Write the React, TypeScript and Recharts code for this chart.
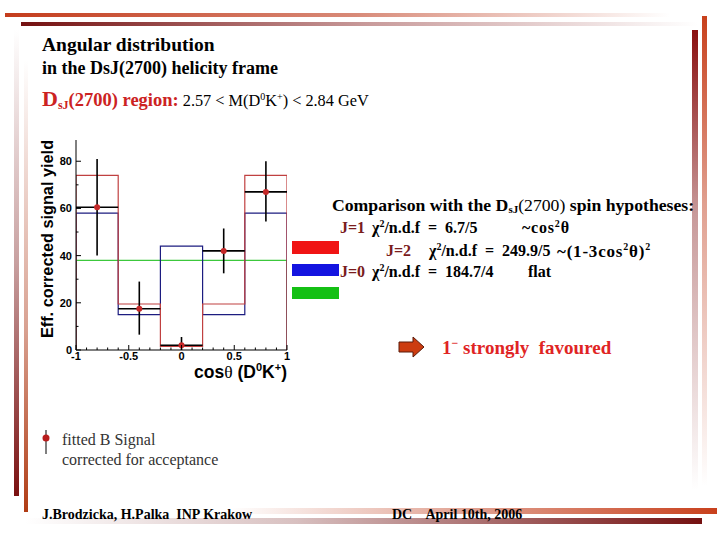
import React from "react";
import {
  ComposedChart,
  Line,
  Scatter,
  ErrorBar,
  XAxis,
  YAxis,
} from "recharts";

// bin edges of cos(theta) and the histograms
const binEdges = [-1, -0.6, -0.2, 0.2, 0.6, 1];
const spin1Fit = [74, 19.5, 1.5, 19.5, 74];
const spin2Fit = [58, 15, 44, 15, 58];
const spin0Fit = [38, 38, 38, 38, 38];

// fitted B signal, corrected for acceptance
const yields = [60.5, 17.5, 2, 42, 67];
const errLow = [20.5, 11, 2, 9.5, 12.5];
const errHigh = [20.5, 11.5, 3.5, 9.5, 13];

const xTicks = [
  -1, -0.9, -0.8, -0.7, -0.6, -0.5, -0.4, -0.3, -0.2, -0.1, 0, 0.1, 0.2, 0.3,
  0.4, 0.5, 0.6, 0.7, 0.8, 0.9, 1,
];
const yTicks = [0, 10, 20, 30, 40, 50, 60, 70, 80];

const stepPoints = (vals: number[]) => {
  const pts = [{ x: binEdges[0], y: 0 }];
  vals.forEach((v, i) => {
    pts.push({ x: binEdges[i], y: v });
    pts.push({ x: binEdges[i + 1], y: v });
  });
  pts.push({ x: binEdges[binEdges.length - 1], y: 0 });
  return pts;
};

const points = yields.map((y, i) => ({
  x: (binEdges[i] + binEdges[i + 1]) / 2,
  y,
  ex: (binEdges[i + 1] - binEdges[i]) / 2,
  ey: [errLow[i], errHigh[i]],
}));

const serif = "'Liberation Serif', 'DejaVu Serif', serif";
const sans = "'Liberation Sans', Arial, sans-serif";
const jColor = "#7a1c1c";

const XTick = (props: any) => {
  const { x, y, payload } = props;
  const v = payload.value;
  const major = Math.abs(v * 2 - Math.round(v * 2)) < 1e-6;
  return (
    <g>
      <line x1={x} x2={x} y1={y} y2={y - (major ? 5 : 2.5)} stroke="#000" />
      {major && (
        <text
          x={x}
          y={y + 10}
          textAnchor="middle"
          fontFamily={sans}
          fontWeight="bold"
          fontSize={11}
          fill="#000"
        >
          {v}
        </text>
      )}
    </g>
  );
};

const YTickLeft = (props: any) => {
  const { x, y, payload } = props;
  const major = payload.value % 20 === 0;
  return (
    <g>
      <line x1={x} x2={x + (major ? 5 : 2.5)} y1={y} y2={y} stroke="#000" />
      {major && (
        <text
          x={x - 4}
          y={y + 4}
          textAnchor="end"
          fontFamily={sans}
          fontWeight="bold"
          fontSize={11}
          fill="#000"
        >
          {payload.value}
        </text>
      )}
    </g>
  );
};

const YTickRight = (props: any) => {
  const { x, y, payload } = props;
  const major = payload.value % 20 === 0;
  return <line x1={x} x2={x - (major ? 5 : 2.5)} y1={y} y2={y} stroke="#000" />;
};

const abs = (left: number, top: number, extra: React.CSSProperties = {}): React.CSSProperties => ({
  position: "absolute",
  left,
  top,
  whiteSpace: "pre",
  lineHeight: 1,
  ...extra,
});

const bar = (left: number, top: number, width: number, height: number, bg: string): React.CSSProperties => ({
  position: "absolute",
  left,
  top,
  width,
  height,
  background: bg,
});

const sup = (t: string, size = 10) => <sup style={{ fontSize: size, lineHeight: 0 }}>{t}</sup>;

export default function App() {
  const hyp = { fontSize: 16, fontWeight: "bold" as const };
  return (
    <div
      style={{
        position: "absolute",
        left: 0,
        top: 0,
        width: 720,
        height: 540,
        background: "#fff",
        overflow: "hidden",
        fontFamily: serif,
      }}
    >
      {/* slide decoration */}
      <div style={bar(5, 13, 700, 4, "linear-gradient(to right, #c43c1c, #d88a78 50%, rgba(255,255,255,0) 95%)")} />
      <div style={bar(21, 22, 690, 4, "linear-gradient(to right, #741010, #c89a9a 50%, rgba(255,255,255,0) 98%)")} />
      <div style={bar(14, 30, 5, 466, "linear-gradient(to bottom, rgba(255,255,255,0), #c8a0a0 50%, #7a1010)")} />
      <div style={bar(24, 60, 4, 452, "linear-gradient(to bottom, rgba(255,255,255,0), #d8a090 60%, #b03c14)")} />
      <div style={bar(692, 30, 6, 460, "linear-gradient(to bottom, #8a1010, #c89a9a 40%, rgba(255,255,255,0))")} />
      <div style={bar(702, 16, 5, 470, "linear-gradient(to bottom, #c8401c, #e0a090 40%, rgba(255,255,255,0))")} />
      <div style={bar(230, 508, 487, 6, "linear-gradient(to right, rgba(255,255,255,0), #e0a090 50%, #c8401c)")} />
      <div style={bar(25, 518, 677, 6, "linear-gradient(to right, rgba(255,255,255,0), #d8c0c0 40%, #741010)")} />

      {/* titles */}
      <div style={abs(42, 35, { fontSize: 19.5, fontWeight: "bold" })}>Angular distribution</div>
      <div style={abs(42, 59, { fontSize: 18, fontWeight: "bold" })}>in the DsJ(2700) helicity frame</div>
      <div style={abs(42, 88, { fontSize: 16.3 })}>
        <span style={{ color: "#cc2222", fontWeight: "bold", fontSize: 22 }}>D</span>
        <span style={{ color: "#cc2222", fontWeight: "bold", fontSize: 12, verticalAlign: -3 }}>sJ</span>
        <span style={{ color: "#cc2222", fontWeight: "bold", fontSize: 18.5 }}>(2700) region:</span>
        <span> 2.57 &lt; M(D</span>
        {sup("0", 10)}
        <span>K</span>
        {sup("+", 10)}
        <span>) &lt; 2.84 GeV</span>
      </div>

      {/* plot */}
      <div style={{ position: "absolute", left: 30, top: 125 }}>
        <ComposedChart width={300} height={250} margin={{ top: 15, right: 43, left: 0, bottom: 0 }}>
          <XAxis
            xAxisId="b"
            type="number"
            dataKey="x"
            domain={[-1, 1]}
            ticks={xTicks}
            interval={0}
            height={25}
            tickSize={0}
            tickMargin={0}
            tickLine={false}
            tick={<XTick />}
            axisLine={{ stroke: "#000" }}
            allowDataOverflow
          />
          <XAxis
            xAxisId="t"
            orientation="top"
            type="number"
            domain={[-1, 1]}
            height={0}
            tick={false}
            tickLine={false}
            axisLine={{ stroke: "#000" }}
          />
          <YAxis
            yAxisId="l"
            type="number"
            domain={[0, 89]}
            ticks={yTicks}
            interval={0}
            width={46}
            tickSize={0}
            tickMargin={0}
            tickLine={false}
            tick={<YTickLeft />}
            axisLine={{ stroke: "#000" }}
            allowDataOverflow
          />
          <YAxis
            yAxisId="r"
            orientation="right"
            type="number"
            domain={[0, 89]}
            ticks={yTicks}
            interval={0}
            width={0}
            tickSize={0}
            tickMargin={0}
            tickLine={false}
            tick={<YTickRight />}
            axisLine={{ stroke: "#000" }}
            allowDataOverflow
          />
          <Line
            xAxisId="b"
            yAxisId="l"
            data={stepPoints(spin0Fit)}
            dataKey="y"
            type="linear"
            stroke="#3cc83c"
            strokeWidth={1.2}
            dot={false}
            isAnimationActive={false}
          />
          <Line
            xAxisId="b"
            yAxisId="l"
            data={stepPoints(spin2Fit)}
            dataKey="y"
            type="linear"
            stroke="#1c1c80"
            strokeWidth={1.2}
            dot={false}
            isAnimationActive={false}
          />
          <Line
            xAxisId="b"
            yAxisId="l"
            data={stepPoints(spin1Fit)}
            dataKey="y"
            type="linear"
            stroke="#c04040"
            strokeWidth={1.2}
            dot={false}
            isAnimationActive={false}
          />
          <Scatter
            xAxisId="b"
            yAxisId="l"
            data={points}
            dataKey="y"
            isAnimationActive={false}
            shape={(p: any) => <circle cx={p.cx} cy={p.cy} r={3} fill="#c42828" />}
          >
            <ErrorBar dataKey="ey" direction="y" width={0} stroke="#000" strokeWidth={1.6} />
            <ErrorBar dataKey="ex" direction="x" width={0} stroke="#000" strokeWidth={1.6} />
          </Scatter>
        </ComposedChart>
      </div>
      <div
        style={abs(47, 239, {
          fontFamily: sans,
          fontWeight: "bold",
          fontSize: 16.3,
          transform: "translate(-50%, -50%) rotate(-90deg)",
        })}
      >
        Eff. corrected signal yield
      </div>
      <div style={abs(287, 364, { fontFamily: sans, fontWeight: "bold", fontSize: 17.5, transform: "translateX(-100%)" })}>
        cos<span style={{ fontFamily: serif, fontWeight: "normal" }}>θ</span> (D{sup("0", 11)}K{sup("+", 11)})
      </div>

      {/* spin hypotheses */}
      <div style={{ position: "absolute", left: 292, top: 241, width: 47, height: 13, background: "#f01414" }} />
      <div style={{ position: "absolute", left: 292, top: 264, width: 47, height: 12, background: "#1414e0" }} />
      <div style={{ position: "absolute", left: 292, top: 287, width: 47, height: 12, background: "#14c014" }} />
      <div style={abs(332, 197, { fontSize: 17.7, fontWeight: "bold" })}>
        Comparison with the D<span style={{ fontSize: 11, verticalAlign: -2 }}>sJ</span>
        <span style={{ fontWeight: "normal" }}>(2700)</span> spin hypotheses:
      </div>

      <div style={abs(340, 220, { ...hyp, color: jColor })}>J=1</div>
      <div style={abs(372, 220, hyp)}>χ{sup("2")}/n.d.f  =  6.7/5</div>
      <div style={abs(522, 220, { ...hyp, letterSpacing: 0.8 })}>~cos{sup("2")}θ</div>

      <div style={abs(386, 243, { ...hyp, color: jColor })}>J=2</div>
      <div style={abs(429, 243, hyp)}>χ{sup("2")}/n.d.f  =  249.9/5</div>
      <div style={abs(557, 243, { ...hyp, fontSize: 17, letterSpacing: 0.8 })}>~(1-3cos{sup("2")}θ){sup("2")}</div>

      <div style={abs(340, 264, { ...hyp, color: jColor })}>J=0</div>
      <div style={abs(372, 264, hyp)}>χ{sup("2")}/n.d.f  =  184.7/4</div>
      <div style={abs(528, 264, hyp)}>flat</div>

      {/* conclusion */}
      <svg style={{ position: "absolute", left: 398, top: 336 }} width={28} height={22}>
        <polygon points="1,6 15,6 15,1 26,11 15,21 15,16 1,16" fill="#cc3c10" stroke="#5a1a0a" strokeWidth={1} />
      </svg>
      <div style={abs(442, 338, { fontSize: 19, fontWeight: "bold", color: "#e02424" })}>
        1{sup("−", 12)}
        {" strongly  favoured"}
      </div>

      {/* data legend */}
      <svg style={{ position: "absolute", left: 40, top: 428 }} width={14} height={28}>
        <line x1={6} x2={6} y1={2} y2={26} stroke="#000" strokeWidth={1} />
        <circle cx={6} cy={10} r={3.5} fill="#b81c1c" />
      </svg>
      <div style={abs(62, 432, { fontSize: 16, color: "#333" })}>fitted B Signal</div>
      <div style={abs(62, 452, { fontSize: 16, color: "#333" })}>corrected for acceptance</div>

      {/* footer */}
      <div style={abs(42, 508, { fontSize: 14, fontWeight: "bold" })}>J.Brodzicka, H.Palka  INP Krakow</div>
      <div style={abs(392, 508, { fontSize: 14, fontWeight: "bold" })}>DC    April 10th, 2006</div>
    </div>
  );
}
